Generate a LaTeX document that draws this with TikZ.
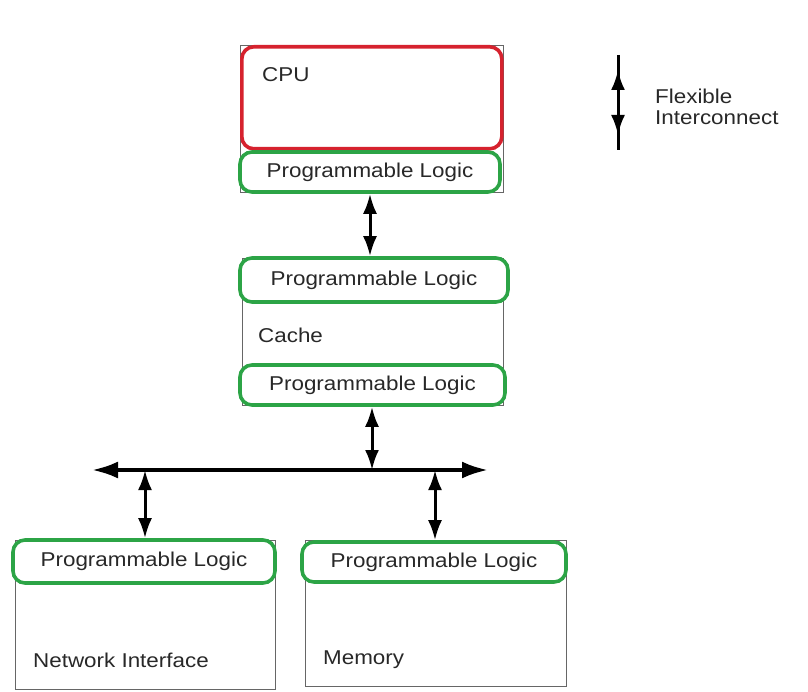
\documentclass[tikz,border=0pt]{standalone}
\usepackage{fontspec}
\setmainfont{Liberation Sans}
\newfontfamily\labfont[FakeStretch=1.12]{Liberation Sans}
\usetikzlibrary{arrows.meta}
\definecolor{cpured}{RGB}{214,34,46}
\definecolor{plgreen}{RGB}{44,164,70}
\definecolor{inkgray}{RGB}{40,40,40}
\tikzset{
  txt/.style={font=\labfont\fontsize{20}{24}\selectfont, text=inkgray},
  frame/.style={draw=black!60, line width=0.9pt, inner sep=0pt, anchor=north west},
  cpubox/.style={draw=cpured, line width=3.6pt, rounded corners=12pt, inner sep=0pt, anchor=north west},
  plbox/.style={txt, draw=plgreen, line width=3.6pt, rounded corners=12pt, fill=white, inner sep=0pt},
  lbl/.style={txt, anchor=west, inner sep=0pt},
  link/.style={line width=3pt, {Latex[length=20pt,width=14pt]}-{Latex[length=20pt,width=14pt]}},
  buslink/.style={line width=3.8pt, {Latex[length=26pt,width=17pt]}-{Latex[length=26pt,width=17pt]}}
}
\begin{document}
\begin{tikzpicture}[x=1pt,y=-1pt]
\useasboundingbox (0,0) rectangle (808,692);

% thin outlines of the functional blocks
\node[frame, minimum width=263pt, minimum height=147pt] (cpuframe) at (240,45) {};
\node[frame, minimum width=261pt, minimum height=147pt] (cacheframe) at (242,258) {};
\node[frame, minimum width=260pt, minimum height=149pt] (niframe) at (15,540) {};
\node[frame, minimum width=261pt, minimum height=146pt] (memframe) at (305,540) {};

% CPU
\node[cpubox, minimum width=260pt, minimum height=102pt] (cpu) at (240,45) {};
\node[lbl] (cpulbl) at (262,75) {CPU};

% programmable logic layers
\node[plbox, minimum width=260pt, minimum height=40pt] (plcpu) at (370,172) {Programmable Logic};
\node[plbox, minimum width=268pt, minimum height=44pt] (plcache1) at (374,280) {Programmable Logic};
\node[plbox, minimum width=265pt, minimum height=40pt] (plcache2) at (372.5,385) {Programmable Logic};
\node[plbox, minimum width=262pt, minimum height=43pt] (plni) at (144,561.5) {Programmable Logic};
\node[plbox, minimum width=264pt, minimum height=40pt] (plmem) at (434,562) {Programmable Logic};

% block names
\node[lbl] (cachelbl) at (258,335) {Cache};
\node[lbl] (nilbl) at (33,660) {Network Interface};
\node[lbl] (memlbl) at (323,660) {Memory};

% shared bus
\coordinate (busL) at (92,470);
\coordinate (busR) at (488,470);
\coordinate (busC) at (372,470);
\coordinate (busN) at (145,470);
\coordinate (busM) at (435,470);
\draw[buslink] (busL) -- (busR);

% interconnects
\draw[link] (plcpu.south) -- (plcpu.south |- plcache1.north);
\draw[link] (plcache2.south -| busC) -- (busC);
\draw[link] (busN) -- (busN |- plni.north);
\draw[link] (busM) -- (busM |- plmem.north);

% legend
\coordinate (legT) at (618,55);
\coordinate (legB) at (618,150);
\coordinate (legHT) at (618,70);
\coordinate (legHB) at (618,135);
\draw[line width=3pt] (legT) -- (legB);
\draw[link] (legHT) -- (legHB);
\node[txt, anchor=west, align=left, inner sep=0pt] (legtxt) at (655,107) {Flexible\\[-3pt]Interconnect};
\end{tikzpicture}
\end{document}
